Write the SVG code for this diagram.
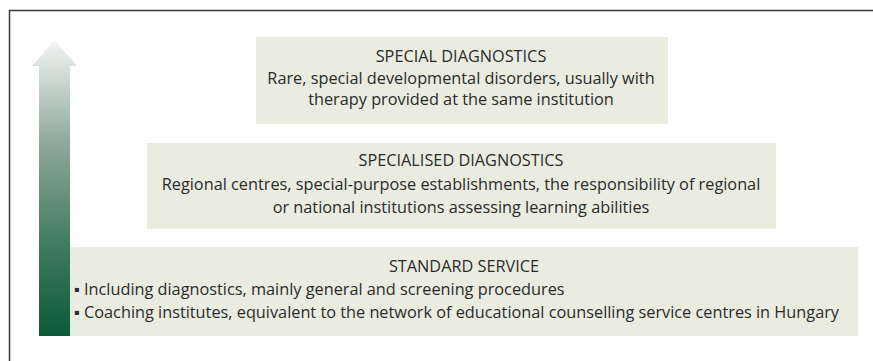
<svg xmlns="http://www.w3.org/2000/svg" width="873" height="361" viewBox="0 0 873 361">
<defs>
<linearGradient id="arrowGrad" x1="0" y1="0" x2="0" y2="1">
<stop offset="0" stop-color="#f2f5f3"/>
<stop offset="0.35" stop-color="#8ea89b"/>
<stop offset="0.7" stop-color="#3f7a5e"/>
<stop offset="1" stop-color="#0b5a37"/>
</linearGradient>
<style>
.box{fill:#e9ecdf}
.t{font-family:"Open Sans","Liberation Sans",Arial,sans-serif;font-size:16.3px;fill:#2b2b2b}
.c{text-anchor:middle}
</style>
</defs>
<rect width="873" height="361" fill="#ffffff"/>
<g id="frame">
<path d="M9.5,361 V10.5 H873" fill="none" stroke="#3a3a3a" stroke-width="1.5"/>
</g>
<g id="arrow">
<polygon points="54.5,40 77,66 70,66 70,336 39,336 39,66 32,66" fill="url(#arrowGrad)"/>
</g>
<g id="special">
<rect class="box" x="256" y="37" width="412" height="87"/>
<text class="t c" x="461" y="62">SPECIAL DIAGNOSTICS</text>
<text class="t c" x="461" y="83.5">Rare, special developmental disorders, usually with</text>
<text class="t c" x="461" y="105">therapy provided at the same institution</text>
</g>
<g id="specialised">
<rect class="box" x="147" y="143" width="629" height="86"/>
<text class="t c" x="461" y="166">SPECIALISED DIAGNOSTICS</text>
<text class="t c" x="461" y="190">Regional centres, special-purpose establishments, the responsibility of regional</text>
<text class="t c" x="461" y="213">or national institutions assessing learning abilities</text>
</g>
<g id="standard">
<rect class="box" x="70" y="247" width="788" height="89"/>
<text class="t c" x="464" y="271.5">STANDARD SERVICE</text>
<text class="t" x="74" y="295">▪ Including diagnostics, mainly general and screening procedures</text>
<text class="t" x="74" y="318">▪ Coaching institutes, equivalent to the network of educational counselling service centres in Hungary</text>
</g>
<g id="connectors"/>
</svg>
